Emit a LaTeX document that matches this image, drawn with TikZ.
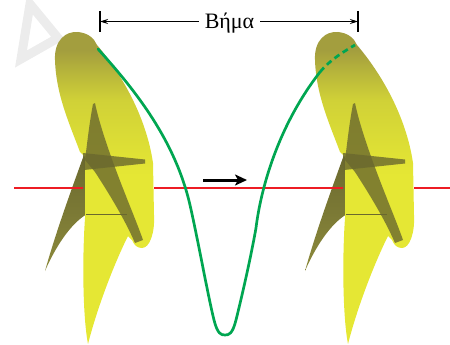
\documentclass[tikz,border=0pt]{standalone}
\usepackage{fontspec}
\setmainfont{Liberation Serif}
\usetikzlibrary{arrows.meta}

\definecolor{pitchgreen}{RGB}{0,166,81}
\definecolor{axisred}{RGB}{237,28,36}
\definecolor{capolive}{RGB}{163,158,62}
\definecolor{bladeyellow}{RGB}{208,209,55}
\definecolor{brightyellow}{RGB}{229,231,52}
\definecolor{bladedark}{RGB}{106,104,46}
\definecolor{tipolive}{RGB}{140,138,60}
\definecolor{markgray}{RGB}{236,236,236}

% olive at the rounded tip, turning yellow towards the hub
\pgfdeclareverticalshading{bladeshade}{100bp}{%
  color(0bp)=(brightyellow); color(52bp)=(brightyellow);
  color(64bp)=(bladeyellow); color(72bp)=(capolive); color(100bp)=(capolive)}

\tikzset{
  propeller/.pic={
    % blade seen edge-on, behind the hub
    \shade[top color=bladedark, bottom color=tipolive]
      (85,152) .. controls (75,180) and (57,228) .. (45,271)
      .. controls (55,248) and (70,224) .. (87,214) -- cycle;
    % upper blade, hub and lower blade
    \shade[shading=bladeshade]
      (80,152) .. controls (70,125) and (56,95) .. (55,60)
      .. controls (54,40) and (66,31) .. (78,32)
      .. controls (88,33) and (94,38) .. (97,45)
      .. controls (120,72) and (146,115) .. (153,163)
      -- (154,215)
      .. controls (155,232) and (150,248) .. (142,248)
      .. controls (137,248) and (134,245) .. (132,240)
      -- (128,236)
      .. controls (115,262) and (98,305) .. (88,344)
      .. controls (83,318) and (82,262) .. (85,218)
      -- (85,157) -- cycle;
    % shadowed blade running down through the hub
    \fill[bladedark, opacity=.8]
      (93,104) .. controls (89,125) and (87,145) .. (85,160)
      -- (95,172)
      .. controls (110,195) and (125,220) .. (135,243)
      -- (143,240)
      .. controls (136,220) and (125,195) .. (113,162)
      .. controls (105,140) and (98,118) .. (95,103) -- cycle;
    % shadow along the foot of the upper blade
    \fill[bladedark, opacity=.8] (83,153) -- (145,159.5) -- (145,163.5) -- (84,170) -- cycle;
    % seam on the hub
    \draw[bladedark, line width=.7pt] (86,214) -- (127,214);
  },
  axisline/.style={axisred, line width=2.8pt},
  helix/.style={pitchgreen, line width=2.7pt, line cap=round},
  dimline/.style={line width=1.1pt, -{Stealth[length=8pt,width=5pt]}},
  dimtick/.style={line width=1.2pt},
  motion/.style={line width=3pt, -{Stealth[length=12pt,width=11pt,inset=3pt]}}
}

\begin{document}
\begin{tikzpicture}[x=1pt, y=-1pt]
  \useasboundingbox (0,0) rectangle (450,345);

  % faint mark in the corner
  \draw[markgray, line width=9pt, line join=miter] (30,4) -- (21,59) -- (58,38) -- cycle;

  % the two positions of the propeller
  \pic at (0,0) {propeller};
  \pic at (260,0) {propeller};

  % shaft axis
  \draw[axisline] (14,188) -- (83,188);
  \draw[axisline] (154,188) -- (343,188);
  \draw[axisline] (414,188) -- (450,188);

  % path of a blade tip over one revolution
  \draw[helix] (98,49)
    .. controls (135,90) and (175,140) .. (190,205)
    .. controls (198,240) and (208,296) .. (214,320)
    .. controls (217.5,334) and (221,335) .. (225,335)
    .. controls (229,335) and (232.5,334) .. (236,320)
    .. controls (240,304) and (250,262) .. (256,228)
    .. controls (260,195) and (275,130) .. (320,72);
  \draw[helix, line cap=butt, dash pattern=on 6pt off 4pt]
    (320,72) .. controls (330,60) and (343,52) .. (355,45);

  % direction of travel
  \coordinate (m1) at (203,180);
  \coordinate (m2) at (247,180);
  \draw[motion] (m1) -- (m2);

  % pitch dimension
  \coordinate (lt) at (100,21.5);
  \coordinate (rt) at (358,21.5);
  \draw[dimtick] (100,11) -- (100,32);
  \draw[dimtick] (358,11) -- (358,32);
  \node[anchor=base, font=\fontsize{22}{26}\selectfont, inner xsep=6pt] (lbl) at (229.5,29) {Βήμα};
  \draw[dimline] (lbl.west |- lt) -- (lt);
  \draw[dimline] (lbl.east |- rt) -- (rt);
\end{tikzpicture}
\end{document}
